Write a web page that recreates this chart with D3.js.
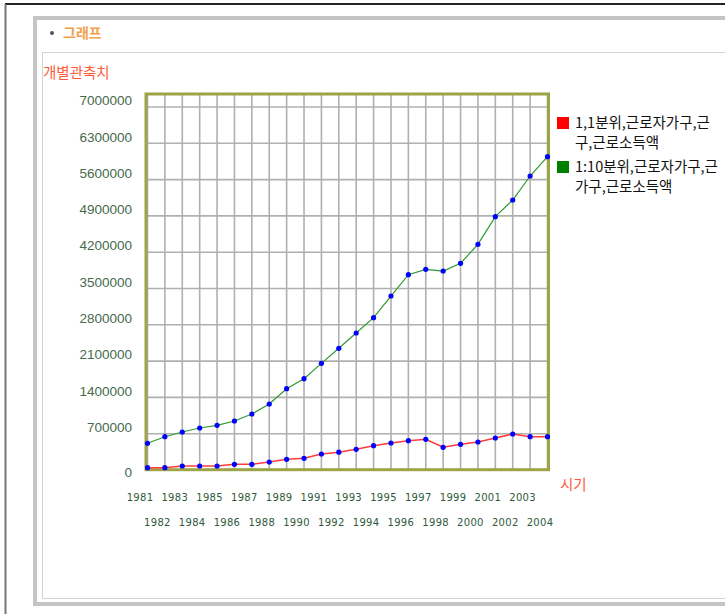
<!DOCTYPE html>
<html>
<head>
<meta charset="utf-8">
<script src="https://cdn.jsdelivr.net/npm/d3@7"></script>
<style>
  body { margin: 0; background: #fff; }
  svg { display: block; }
</style>
</head>
<body>
<div id="chart"></div>
<script>
// data
var years = ["1981","1982","1983","1984","1985","1986","1987","1988","1989","1990","1991","1992",
             "1993","1994","1995","1996","1997","1998","1999","2000","2001","2002","2003","2004"];
var decile1 = [45000, 45000, 77000, 77000, 77000, 110000, 110000, 154000, 206000, 225000, 309000, 343000,
               399000, 469000, 521000, 565000, 592000, 438000, 496000, 540000, 617000, 694000, 642000, 642000];
var decile10 = [515000, 642000, 733000, 810000, 862000, 945000, 1080000, 1273000, 1568000, 1761000, 2057000, 2347000,
                2642000, 2937000, 3355000, 3766000, 3870000, 3837000, 3986000, 4352000, 4885000, 5207000, 5669000, 6042000];
var yTicks = [0, 700000, 1400000, 2100000, 2800000, 3500000, 4200000, 4900000, 5600000, 6300000, 7000000];
// legend text as it shows in the picture (it runs off the right edge there)
var legendLines = [["1,1분위,근로자가구,근", "구,근로소득액"],
                   ["1:10분위,근로자가구,근", "가구,근로소득액"]];
var seriesColors = ["#ff0000", "#008000"];
var lineColors = ["#ff3a3a", "#2f9a2f"];

var width = 725, height = 614;
var plot = {left: 146, top: 94, right: 548.5, bottom: 469.7};

var svg = d3.select("#chart")
  .append("svg")
    .attr("width", width)
    .attr("height", height);

// page frame
svg.append("line").attr("x1", 5).attr("x2", width).attr("y1", 4).attr("y2", 4)
  .attr("stroke", "#222").attr("stroke-width", 2);
svg.append("line").attr("x1", 5.5).attr("x2", 5.5).attr("y1", 4).attr("y2", height)
  .attr("stroke", "#777").attr("stroke-width", 2);

// grey box + inner panel
svg.append("rect").attr("x", 35).attr("y", 18).attr("width", 760).attr("height", 586)
  .attr("fill", "none").attr("stroke", "#c4c4c4").attr("stroke-width", 4);
svg.append("rect").attr("x", 42.5).attr("y", 52.5).attr("width", 760).attr("height", 546)
  .attr("fill", "none").attr("stroke", "#d2d2d2").attr("stroke-width", 1);

svg.append("circle").attr("cx", 52).attr("cy", 33).attr("r", 2).attr("fill", "#555");
svg.append("text").attr("x", 63).attr("y", 33).attr("dy", "0.35em")
  .style("font-family", "Noto Sans CJK KR").style("font-size", "14px").style("font-weight", "bold")
  .attr("fill", "#f2a04c").text("그래프");

svg.append("text").attr("x", 43).attr("y", 73).attr("dy", "0.35em")
  .style("font-family", "Noto Sans CJK KR").style("font-size", "14.5px")
  .attr("fill", "#ff5a3a").text("개별관축치");

svg.append("text").attr("x", 560).attr("y", 485).attr("dy", "0.35em")
  .style("font-family", "Noto Sans CJK KR").style("font-size", "14.5px")
  .attr("fill", "#ff5a3a").text("시기");

var x = d3.scalePoint()
  .domain(years)
  .range([147.5, 547.5]);

var y = d3.scaleLinear()
  .domain([0, 7000000])
  .range([470, 107]);

// grid
svg.append("g")
  .selectAll("line")
  .data(yTicks.slice(1))
  .enter()
  .append("line")
    .attr("x1", plot.left).attr("x2", plot.right)
    .attr("y1", function(d){ return y(d); })
    .attr("y2", function(d){ return y(d); })
    .attr("stroke", "#b0b0b0").attr("stroke-width", 1.6);

svg.append("g")
  .selectAll("line")
  .data(years)
  .enter()
  .append("line")
    .attr("x1", function(d){ return x(d); })
    .attr("x2", function(d){ return x(d); })
    .attr("y1", plot.top).attr("y2", plot.bottom)
    .attr("stroke", "#b0b0b0").attr("stroke-width", 1.6);

// plot border
svg.append("rect")
  .attr("x", plot.left).attr("y", plot.top)
  .attr("width", plot.right - plot.left).attr("height", plot.bottom - plot.top)
  .attr("fill", "none").attr("stroke", "#9ca446").attr("stroke-width", 3);

// y axis labels
var yAxis = svg.append("g")
  .attr("transform", "translate(" + plot.left + ",0)")
  .call(d3.axisLeft(y).tickValues(yTicks).tickSize(0).tickPadding(14).tickFormat(d3.format("d")));
yAxis.select(".domain").remove();
yAxis.selectAll("text")
  .attr("y", function(d){ return d == 0 ? 2 : -7; })
  .attr("dy", "0.35em")
  .attr("fill", "#46694c")
  .style("font-family", "Liberation Sans")
  .style("font-size", "13.5px");

// x axis labels, staggered on two rows
var xAxis = svg.append("g")
  .attr("transform", "translate(0," + plot.bottom + ")")
  .call(d3.axisBottom(x).tickSize(0));
xAxis.select(".domain").remove();
xAxis.selectAll("text")
  .attr("x", -8)
  .attr("y", function(d, i){ return i % 2 == 0 ? 28 : 53; })
  .attr("dy", "0.35em")
  .attr("fill", "#2f5a3a")
  .style("font-family", "DejaVu Sans")
  .style("font-size", "10px")
  .style("letter-spacing", "0.3px");

// lines
var line = d3.line()
  .x(function(d, i){ return x(years[i]); })
  .y(function(d){ return y(d); });

[decile1, decile10].forEach(function(s, k) {
  svg.append("path")
    .datum(s)
    .attr("d", line)
    .attr("fill", "none")
    .attr("stroke", lineColors[k])
    .attr("stroke-width", k == 0 ? 1.5 : 1.2);
});

[decile1, decile10].forEach(function(s) {
  svg.append("g")
    .selectAll("circle")
    .data(s)
    .enter()
    .append("circle")
      .attr("cx", function(d, i){ return x(years[i]); })
      .attr("cy", function(d){ return y(d); })
      .attr("r", 2.6)
      .attr("fill", "#0000ff");
});

// legend
var legendTop = [123, 167];
legendLines.forEach(function(lines, k) {
  svg.append("rect")
    .attr("x", 557).attr("y", legendTop[k] - 6)
    .attr("width", 12).attr("height", 12)
    .attr("fill", seriesColors[k]);
  var t = svg.append("text")
    .style("font-family", "Noto Sans CJK KR")
    .style("font-size", "14.5px")
    .attr("fill", "#111");
  lines.forEach(function(s, j) {
    t.append("tspan").attr("x", 575).attr("y", legendTop[k] + j * 19.5).attr("dy", "0.35em").text(s);
  });
});
</script>
</body>
</html>
